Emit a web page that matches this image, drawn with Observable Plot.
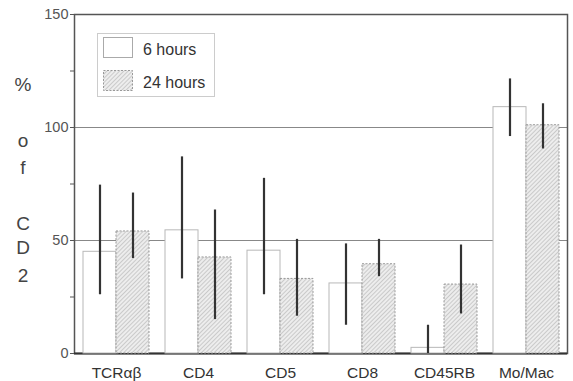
<!DOCTYPE html>
<html>
<head>
<meta charset="utf-8">
<script src="https://cdn.jsdelivr.net/npm/d3@7"></script>
<script src="https://cdn.jsdelivr.net/npm/@observablehq/plot@0.6"></script>
<style>
  body { margin: 0; background: #fff; }
  #wrap { position: relative; width: 573px; height: 381px; font-family: "Liberation Sans", Arial, sans-serif; color: #444; }
  #wrap > .layer { position: absolute; left: 0; top: 0; }
  #ylab div { position: absolute; left: 13px; width: 20px; text-align: center; font-size: 19px; line-height: 19px; color: #444; }
  #legend { position: absolute; left: 97px; top: 33px; width: 116px; height: 62px; border: 1px solid #ccc; background: #fff; }
  #legend .sw { position: absolute; left: 5px; width: 30px; height: 21px; box-sizing: border-box; }
  #legend .lbl { position: absolute; left: 45px; font-size: 16px; line-height: 18px; color: #333; }
</style>
</head>
<body>
<svg width="0" height="0" style="position:absolute">
  <defs>
    <pattern id="hatch" patternUnits="userSpaceOnUse" width="3" height="3" patternTransform="rotate(45)">
      <rect width="3" height="3" fill="#ededed"></rect>
      <line x1="0" y1="0" x2="0" y2="3" stroke="#a8a8a8" stroke-width="1"></line>
    </pattern>
  </defs>
</svg>
<div id="wrap"></div>
<script>
const categories = ["TCRαβ", "CD4", "CD5", "CD8", "CD45RB", "Mo/Mac"];
const seriesNames = ["6 hours", "24 hours"];
const mean6  = [45, 54.5, 45.5, 31, 2.5, 109];
const low6   = [26, 33, 26, 12.5, 0, 96];
const high6  = [74.5, 87, 77.5, 48.5, 12.5, 121.5];
const mean24 = [54, 42.5, 33, 39.5, 30.5, 101];
const low24  = [42, 15, 16.5, 34, 17.5, 90.5];
const high24 = [71, 63.5, 50.5, 50.5, 48, 110.5];
const yTicks = [0, 25, 50, 75, 100, 125, 150];
const gridValues = [50, 100];

const rows = [];
categories.forEach((c, i) => {
  rows.push({cat: c, series: seriesNames[0], v: mean6[i], lo: low6[i], hi: high6[i]});
  rows.push({cat: c, series: seriesNames[1], v: mean24[i], lo: low24[i], hi: high24[i]});
});

const W = 573, H = 381;
const margins = {marginLeft: 74, marginRight: 6, marginTop: 14, marginBottom: 28};
const band = {paddingInner: 0.2, paddingOuter: 0.105};
const font = "Liberation Sans, Arial, sans-serif";

// background layer: axes, grid, frame
const bg = Plot.plot({
  width: W, height: H, ...margins,
  style: {fontFamily: font, background: "transparent", color: "#444"},
  x: {type: "band", domain: categories, ...band},
  y: {domain: [0, 150]},
  marks: [
    Plot.ruleY(gridValues, {stroke: "#888", strokeWidth: 1}),
    Plot.frame({stroke: "#555", strokeWidth: 1.5}),
    Plot.ruleY([0], {stroke: "#333", strokeWidth: 2.2}),
    Plot.ruleX([0], {frameAnchor: "left", stroke: "#333", strokeWidth: 2.2, y1: 0, y2: 150}),
    Plot.axisY({ticks: yTicks, tickFormat: d => d % 50 === 0 ? d : "", tickSize: 4, tickPadding: 2, fontSize: 14.5, label: null, stroke: "#555", fill: "#555"}),
    Plot.axisX({tickSize: 0, tickPadding: 13, fontSize: 15.5, label: null, fill: "#333"})
  ]
});
bg.classList.add("layer");

// foreground layer: grouped bars and error bars
const fg = Plot.plot({
  width: W, height: H, ...margins,
  style: {fontFamily: font, background: "transparent"},
  fx: {domain: categories, ...band, axis: null, label: null},
  x: {domain: seriesNames, padding: 0, axis: null},
  y: {domain: [0, 150], axis: null},
  marks: [
    Plot.barY(rows.filter(d => d.series === seriesNames[0]), {fx: "cat", x: "series", y: "v", fill: "white", stroke: "#b8b8b8", strokeWidth: 1}),
    Plot.barY(rows.filter(d => d.series === seriesNames[1]), {fx: "cat", x: "series", y: "v", fill: "url(#hatch)", stroke: "#999", strokeWidth: 1, strokeDasharray: "2,1.5"}),
    Plot.ruleX(rows, {fx: "cat", x: "series", y1: "lo", y2: "hi", stroke: "#333", strokeWidth: 2.2})
  ]
});
fg.classList.add("layer");

const wrap = document.getElementById("wrap");
wrap.appendChild(bg);
wrap.appendChild(fg);

// stacked y label
const ylab = document.createElement("div");
ylab.id = "ylab";
const yChars = [["%", 75], ["o", 131], ["f", 158], ["C", 214], ["D", 238], ["2", 266]];
yChars.forEach(([ch, top]) => {
  const d = document.createElement("div");
  d.textContent = ch;
  d.style.top = top + "px";
  ylab.appendChild(d);
});
wrap.appendChild(ylab);

// legend
const legend = document.createElement("div");
legend.id = "legend";
legend.innerHTML = `
  <div class="sw" style="top:3px;background:#fff;border:1px solid #aaa"></div>
  <div class="lbl" style="top:7px">${seriesNames[0]}</div>
  <svg class="sw" style="top:36px" width="30" height="21"><rect x="0.5" y="0.5" width="29" height="20" fill="url(#hatch)" stroke="#999" stroke-dasharray="2,1.5"/></svg>
  <div class="lbl" style="top:40px">${seriesNames[1]}</div>`;
wrap.appendChild(legend);
</script>
</body>
</html>
